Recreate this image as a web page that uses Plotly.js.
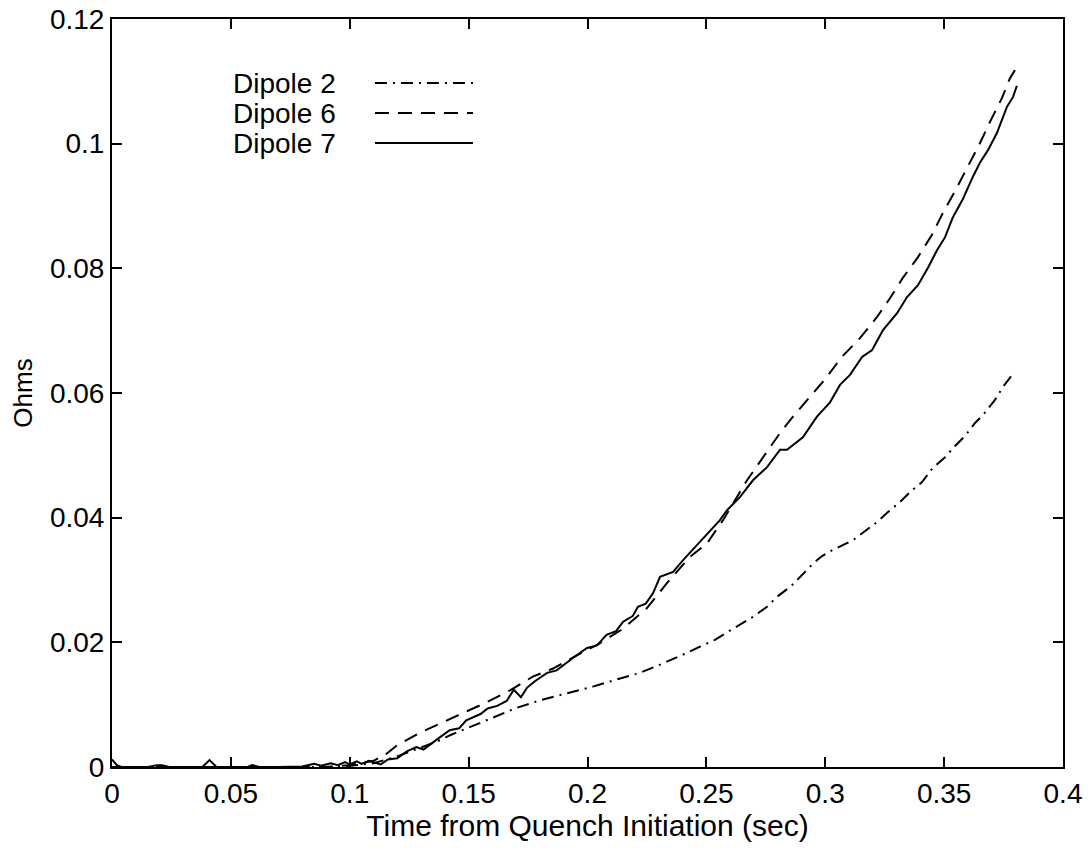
<!DOCTYPE html>
<html>
<head>
<meta charset="utf-8">
<script src="https://cdn.plot.ly/plotly-3.0.1.min.js"></script>
<style>html,body{margin:0;padding:0;background:#fff;}#chart{width:1089px;height:848px;}</style>
</head>
<body>
<div id="chart"></div>
<script>
// ---- data ----
const seriesNames = ["Dipole 2", "Dipole 6", "Dipole 7"];

const dipole2_t = [0,0.05,0.09,0.1,0.11,0.12,0.13,0.138,0.1422,0.1506,0.1603,0.1703,0.18,0.1914,0.2023,0.2137,0.2212,0.2292,0.2355,0.2418,0.2473,0.2536,0.2591,0.265,0.2696,0.2755,0.2797,0.2856,0.2907,0.2948,0.2985,0.303,0.3117,0.3167,0.3218,0.3264,0.3314,0.3365,0.3407,0.3453,0.3504,0.3546,0.3588,0.363,0.3664,0.3714,0.3748,0.379];
const dipole2_v = [0,0,0,0.0002,0.0006,0.0017,0.0031,0.0043,0.0051,0.0064,0.0079,0.0095,0.0107,0.0118,0.0129,0.0142,0.0150,0.0162,0.0172,0.0183,0.0193,0.0204,0.0217,0.0231,0.0241,0.0257,0.0273,0.0290,0.0310,0.0326,0.0338,0.0348,0.0364,0.0379,0.0393,0.0409,0.0425,0.0444,0.0457,0.0480,0.0497,0.0515,0.0531,0.0552,0.0565,0.0589,0.0610,0.0631];

const dipole6_t = [0,0.05,0.09,0.1,0.105,0.11,0.115,0.12,0.1295,0.139,0.149,0.1577,0.1674,0.177,0.1855,0.195,0.205,0.215,0.225,0.2334,0.2431,0.2503,0.257,0.2671,0.2738,0.281,0.2864,0.2936,0.2999,0.307,0.3146,0.3218,0.3272,0.3327,0.339,0.3449,0.3495,0.3546,0.36,0.3651,0.3693,0.3743,0.3777,0.3798];
const dipole6_v = [0,0,0,0.0003,0.0006,0.001,0.002,0.0035,0.0055,0.0071,0.0089,0.0104,0.0123,0.0145,0.0158,0.0178,0.0198,0.0222,0.0255,0.0295,0.0337,0.0359,0.0396,0.0460,0.0497,0.0536,0.0562,0.0594,0.0622,0.0658,0.0688,0.0722,0.0752,0.0785,0.0818,0.0854,0.0889,0.0924,0.0963,0.1001,0.1035,0.1073,0.1105,0.1118];

const dipole7_t = [0,0.002,0.004,0.008,0.015,0.019,0.021,0.024,0.03,0.038,0.041,0.044,0.05,0.057,0.059,0.062,0.07,0.08,0.085,0.088,0.092,0.095,0.098,0.1,0.103,0.105,0.108,0.11,0.113,0.116,0.12,0.124,0.128,0.131,0.135,0.138,0.142,0.146,0.149,0.152,0.155,0.158,0.162,0.166,0.169,0.172,0.1745,0.178,0.183,0.187,0.191,0.195,0.1998,0.204,0.208,0.212,0.215,0.219,0.2212,0.2245,0.2276,0.2305,0.236,0.2402,0.246,0.25,0.2557,0.2587,0.2641,0.2696,0.2755,0.281,0.2839,0.2906,0.2965,0.302,0.3062,0.3104,0.3155,0.3197,0.3243,0.3302,0.3344,0.339,0.3432,0.347,0.3504,0.3537,0.358,0.3621,0.365,0.3685,0.3722,0.3764,0.379,0.3806];
const dipole7_v = [0.0012,0.0003,0,0,0,0.0003,0.0003,0,0,0,0.0011,0,0,0,0.0003,0,0,0.0001,0.0005,0.0002,0.0006,0.0003,0.0008,0.0004,0.0009,0.0005,0.0010,0.0008,0.0004,0.0012,0.0014,0.0025,0.0032,0.0028,0.0040,0.0048,0.0059,0.0062,0.0075,0.0080,0.0085,0.0094,0.0098,0.0106,0.0124,0.0112,0.0127,0.0138,0.0151,0.0155,0.0167,0.0178,0.0191,0.0195,0.0212,0.0218,0.0233,0.0242,0.0257,0.0262,0.0279,0.0305,0.0313,0.0332,0.0356,0.0372,0.0396,0.0412,0.0433,0.0460,0.0481,0.0509,0.0509,0.0529,0.0562,0.0585,0.0613,0.0629,0.0658,0.0669,0.0701,0.0728,0.0754,0.0773,0.0801,0.0829,0.0850,0.0882,0.0912,0.0947,0.0969,0.0990,0.1017,0.1059,0.1075,0.1093];

const xTickVals = [0,0.05,0.1,0.15,0.2,0.25,0.3,0.35,0.4];
const xTickText = ["0","0.05","0.1","0.15","0.2","0.25","0.3","0.35","0.4"];
const yTickVals = [0,0.02,0.04,0.06,0.08,0.1,0.12];
const yTickText = ["0","0.02","0.04","0.06","0.08","0.1","0.12"];

// ---- styling ----
const FONT = "Liberation Sans, Arial, Helvetica, sans-serif";
const dashes = ["12px,6px,2px,6px", "14px,9px", "solid"];
const seriesT = [dipole2_t, dipole6_t, dipole7_t];
const seriesV = [dipole2_v, dipole6_v, dipole7_v];

const traces = seriesNames.map((name, i) => ({
  type: "scatter", mode: "lines", name: name,
  x: seriesT[i], y: seriesV[i],
  line: {color: "#000", width: 2, dash: dashes[i]},
  showlegend: false, hoverinfo: "skip"
}));

// manual legend: text on the left, line sample on the right
const legY = [0.9144, 0.8743, 0.8342];
const annotations = seriesNames.map((name, i) => ({
  xref: "paper", yref: "paper", x: 0.125, y: legY[i],
  xanchor: "left", yanchor: "middle", showarrow: false,
  text: name, font: {family: FONT, size: 28, color: "#000"}
}));
const shapes = seriesNames.map((name, i) => ({
  type: "line", xref: "paper", yref: "paper",
  x0: 0.2765, x1: 0.3796, y0: legY[i], y1: legY[i],
  line: {color: "#000", width: 2, dash: dashes[i]}
}));

const axisCommon = {
  showline: true, linecolor: "#000", linewidth: 2, mirror: "ticks",
  ticks: "inside", ticklen: 10, tickwidth: 2, tickcolor: "#000",
  showgrid: false, zeroline: false,
  tickfont: {family: FONT, size: 28, color: "#000"}
};

const layout = {
  width: 1089, height: 848,
  paper_bgcolor: "#fff", plot_bgcolor: "#fff",
  margin: {l: 112, r: 26, t: 19, b: 81},
  font: {family: FONT, color: "#000"},
  xaxis: Object.assign({}, axisCommon, {
    range: [0, 0.4], tickmode: "array", tickvals: xTickVals, ticktext: xTickText,
    title: {text: "Time from Quench Initiation (sec)", font: {family: FONT, size: 30, color: "#000"}, standoff: 0}
  }),
  yaxis: Object.assign({}, axisCommon, {
    range: [0, 0.12], tickmode: "array", tickvals: yTickVals, ticktext: yTickText,
    title: {text: "Ohms", font: {family: FONT, size: 26, color: "#000"}, standoff: 10}
  }),
  annotations: annotations,
  shapes: shapes
};

Plotly.newPlot("chart", traces, layout, {displayModeBar: false, staticPlot: true});
</script>
</body>
</html>
